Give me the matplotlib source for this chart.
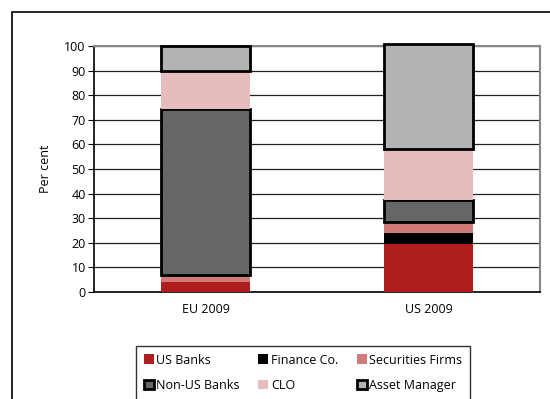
import matplotlib
matplotlib.use('Agg')
import matplotlib.pyplot as plt
import numpy as np
from matplotlib.patches import Rectangle

plt.rcParams['font.family'] = ['Open Sans', 'DejaVu Sans']

categories = ['EU 2009', 'US 2009']
series = ['US Banks', 'Finance Co.', 'Securities Firms', 'Non-US Banks', 'CLO', 'Asset Manager']
us_banks = [4.0, 19.4]
finance_co = [0.0, 4.7]
securities = [3.0, 4.4]
non_us_banks = [67.4, 8.9]
clo = [15.6, 20.6]
asset_manager = [10.0, 43.0]
values = [us_banks, finance_co, securities, non_us_banks, clo, asset_manager]

colors = ['#ad1f1f', '#000000', '#d07a7a', '#666666', '#e6bcbc', '#b3b3b3']
edges = [None, None, None, 'black', None, 'black']

fig = plt.figure(figsize=(5.5, 3.99), dpi=100)
W, H = 550, 399
ax = fig.add_axes([94 / W, 1 - 292 / H, 446 / W, 246 / H])

# outer frame of the chart object
fig.patches.append(Rectangle((12 / W, -0.05), 1.2, 1 - 12 / H + 0.05, transform=fig.transFigure,
                             fill=False, edgecolor='black', linewidth=1.2))

x = np.arange(len(categories))
bottom = np.zeros(len(categories))
handles = []
for name, vals, c, e in zip(series, values, colors, edges):
    if e:
        b = ax.bar(x, vals, 0.4, bottom=bottom, color=c, edgecolor=e, linewidth=2, label=name, zorder=3)
    else:
        b = ax.bar(x, vals, 0.4, bottom=bottom, color=c, linewidth=0, label=name, zorder=3)
    for p in b:
        p.set_clip_on(False)
    handles.append(b)
    bottom += np.array(vals)

ax.set_xlim(-0.5, 1.5)
ax.set_ylim(0, 100)
ax.set_yticks(range(0, 101, 10))
ax.set_xticks(x)
ax.set_xticklabels(categories)
ax.tick_params(axis='x', length=0, pad=8, labelsize=9)
ax.tick_params(axis='y', length=4, direction='out', labelsize=9, pad=2)
ax.yaxis.grid(True, color='#222222', linewidth=0.9, zorder=0)
ax.set_axisbelow(True)
ax.set_ylabel('Per cent', fontsize=9, labelpad=9)
ax.spines['top'].set_color('#888888')
ax.spines['right'].set_color('#888888')
ax.spines['top'].set_linewidth(1.5)
ax.spines['right'].set_linewidth(1.5)
ax.spines['left'].set_linewidth(1.2)
ax.spines['bottom'].set_linewidth(1.2)

order = [0, 3, 1, 4, 2, 5]
leg = fig.legend([handles[i] for i in order], [series[i] for i in order], ncol=3,
                 loc='upper left', bbox_to_anchor=(136 / W, 1 - 346 / H), fontsize=9,
                 frameon=True, fancybox=False, edgecolor='black', handlelength=0.8,
                 handleheight=0.8, handletextpad=0.2, columnspacing=1.5, borderpad=0.6,
                 labelspacing=1.0, borderaxespad=0)
leg.get_frame().set_linewidth(1.0)

fig.savefig('out.png', dpi=100)
